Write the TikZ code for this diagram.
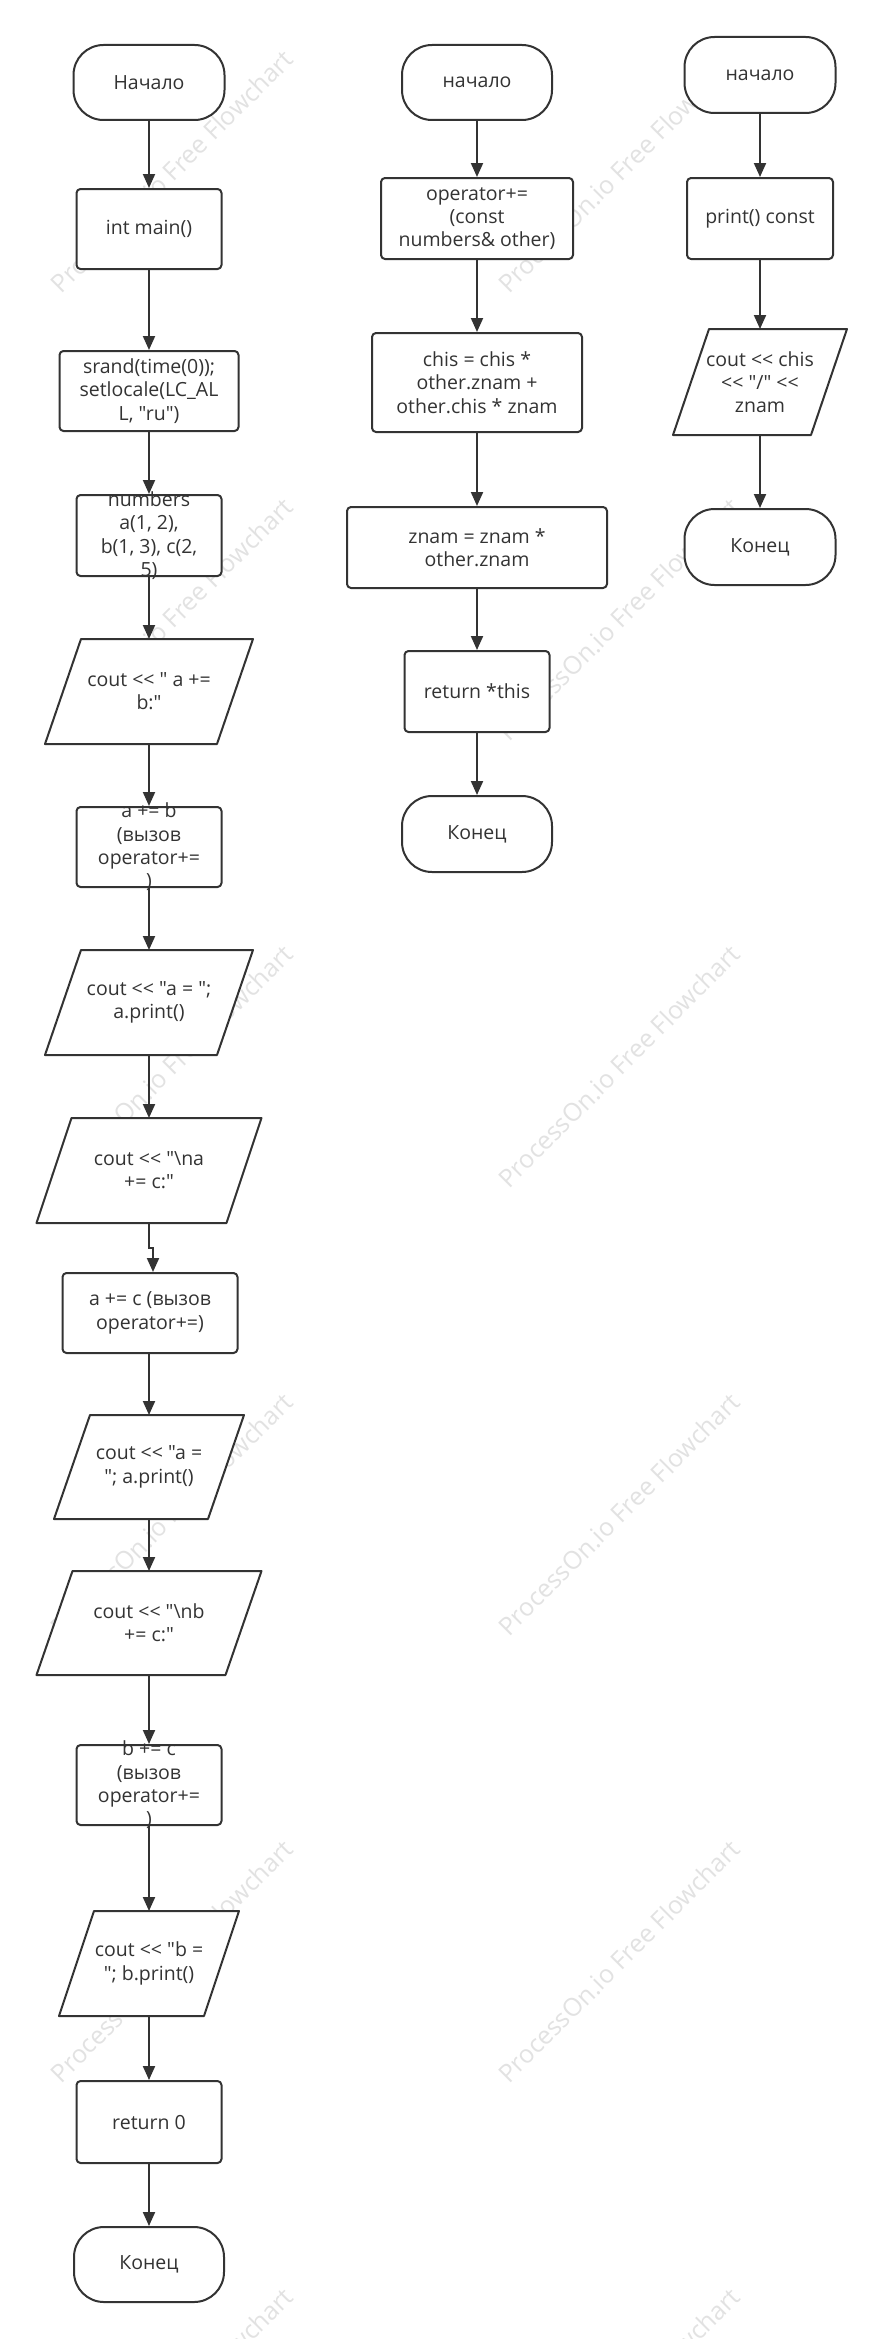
\documentclass[tikz,border=0pt]{standalone}
\usepackage{fontspec}
\setmainfont{Open Sans}[Ligatures=TeXOff]
\usetikzlibrary{arrows.meta}
\definecolor{lc}{HTML}{333333}
\definecolor{wm}{HTML}{E2E2E2}
\newcommand\parl[6]{%
  \node[frame, minimum width=#4pt, minimum height=#5pt] (#1) at (#2,#3) {};
  \draw[shp] ([xshift=#6pt]#1.north west) -- ([xshift=#6pt]#1.north east) --
    ([xshift=-#6pt]#1.south east) -- ([xshift=-#6pt]#1.south west) -- cycle;}
\begin{document}
\begin{tikzpicture}[x=1pt,y=-1pt,
  shp/.style={draw=lc, line width=2pt, fill=white, inner sep=0pt, line join=round},
  box/.style={shp, rounded corners=4pt},
  term/.style={shp, rounded corners=30pt},
  frame/.style={inner sep=0pt, outer sep=0pt},
  txt/.style={font=\fontsize{19.5}{23.3}\selectfont, text=lc, align=center, inner sep=0pt},
  arr/.style={draw=lc, line width=2pt, -{Triangle[length=14pt,width=12pt]}},
  wmark/.style={font=\fontsize{25}{30}\selectfont, text=wm, rotate=45, inner sep=0pt}
]
\useasboundingbox (0,0) rectangle (883,2339);
\fill[white] (0,0) rectangle (883,2339);
% watermark
\foreach \c/\cx in {1/171.5,2/619}{
  \foreach \r/\ry in {1/171.5,2/619,3/1066,4/1514,5/1961,6/2409}{
    \node[wmark] (w\c\r) at (\cx,\ry) {ProcessOn.io Free Flowchart};
  }
}
% ---------- column 1 ----------
\node[term, minimum width=151pt, minimum height=75pt] (a1) at (149,82.5) {};
\node[box, minimum width=145pt, minimum height=80pt] (a2) at (149,229) {};
\node[box, minimum width=179pt, minimum height=80pt] (a3) at (149,391) {};
\node[box, minimum width=145pt, minimum height=81pt] (a4) at (149,535.5) {};
\parl{a5}{149}{691.5}{172}{105}{18}
\node[box, minimum width=145pt, minimum height=80pt] (a6) at (149,847) {};
\parl{a7}{149}{1002.5}{172}{105}{18}
\parl{a8}{149}{1170.5}{190}{105}{17.5}
\node[box, minimum width=175pt, minimum height=80pt] (a9) at (150,1313) {};
\parl{a10}{149}{1467}{154}{104}{18}
\parl{a11}{149}{1623}{189}{104}{18}
\node[box, minimum width=145pt, minimum height=80pt] (a12) at (149,1785) {};
\parl{a13}{149}{1963.5}{145}{105}{17.5}
\node[box, minimum width=145pt, minimum height=82pt] (a14) at (149,2122) {};
\node[term, minimum width=150pt, minimum height=75pt] (a15) at (149,2264.5) {};
% ---------- column 2 ----------
\node[term, minimum width=150pt, minimum height=75pt] (b1) at (477,82.5) {};
\node[box, minimum width=192pt, minimum height=81pt] (b2) at (477,218.5) {};
\node[box, minimum width=210pt, minimum height=99pt] (b3) at (477,382.5) {};
\node[box, minimum width=260pt, minimum height=81pt] (b4) at (477,547.5) {};
\node[box, minimum width=145pt, minimum height=81pt] (b5) at (477,691.5) {};
\node[term, minimum width=150pt, minimum height=76pt] (b6) at (477,834) {};
% ---------- column 3 ----------
\node[term, minimum width=151pt, minimum height=76pt] (c1) at (760,75) {};
\node[box, minimum width=146pt, minimum height=81pt] (c2) at (760,218.5) {};
\parl{c3}{760}{382}{138}{106}{18}
\node[term, minimum width=151pt, minimum height=76pt] (c4) at (760,547) {};
% ---------- texts ----------
\node[txt] (a1t) at (a1) {Начало};
\node[txt] (a2t) at (a2) {int main()};
\node[txt] (a3t) at (a3) {srand(time(0));\\setlocale(LC\_AL\\L, "ru")};
\node[txt] (a4t) at (a4) {numbers\\a(1, 2),\\b(1, 3), c(2,\\5)};
\node[txt] (a5t) at (a5) {cout << " a +=\\b:"};
\node[txt] (a6t) at (a6) {a += b\\(вызов\\operator+=\\)};
\node[txt] (a7t) at (a7) {cout << "a = ";\\a.print()};
\node[txt] (a8t) at (a8) {cout << "\textbackslash na\\+= c:"};
\node[txt] (a9t) at (a9) {a += c (вызов\\operator+=)};
\node[txt] (a10t) at (a10) {cout << "a =\\"; a.print()};
\node[txt] (a11t) at (a11) {cout << "\textbackslash nb\\+= c:"};
\node[txt] (a12t) at (a12) {b += c\\(вызов\\operator+=\\)};
\node[txt] (a13t) at (a13) {cout << "b =\\"; b.print()};
\node[txt] (a14t) at (a14) {return 0};
\node[txt] (a15t) at (a15) {Конец};
\node[txt] (b1t) at (b1) {начало};
\node[txt] (b2t) at (b2) {operator+=\\(const\\numbers\& other)};
\node[txt] (b3t) at (b3) {chis = chis *\\other.znam +\\other.chis * znam};
\node[txt] (b4t) at (b4) {znam = znam *\\other.znam};
\node[txt] (b5t) at (b5) {return *this};
\node[txt] (b6t) at (b6) {Конец};
\node[txt] (c1t) at (c1) {начало};
\node[txt] (c2t) at (c2) {print() const};
\node[txt] (c3t) at (c3) {cout << chis\\<< "/" <<\\znam};
\node[txt] (c4t) at (c4) {Конец};
% ---------- connectors ----------
\draw[arr] (a1) -- (a2);
\draw[arr] (a2) -- (a3);
\draw[arr] (a3) -- (a4);
\draw[arr] (a4) -- (a5);
\draw[arr] (a5) -- (a6);
\draw[arr] (a6) -- (a7);
\draw[arr] (a7) -- (a8);
\coordinate (j1) at (153,1248);
\draw[arr] (a8.south) |- (j1) -- (j1 |- a9.north);
\draw[arr] (a9.south -| a10) -- (a10);
\draw[arr] (a10) -- (a11);
\draw[arr] (a11) -- (a12);
\draw[arr] (a12) -- (a13);
\draw[arr] (a13) -- (a14);
\draw[arr] (a14) -- (a15);
\draw[arr] (b1) -- (b2);
\draw[arr] (b2) -- (b3);
\draw[arr] (b3) -- (b4);
\draw[arr] (b4) -- (b5);
\draw[arr] (b5) -- (b6);
\draw[arr] (c1) -- (c2);
\draw[arr] (c2) -- (c3);
\draw[arr] (c3) -- (c4);
\end{tikzpicture}
\end{document}
